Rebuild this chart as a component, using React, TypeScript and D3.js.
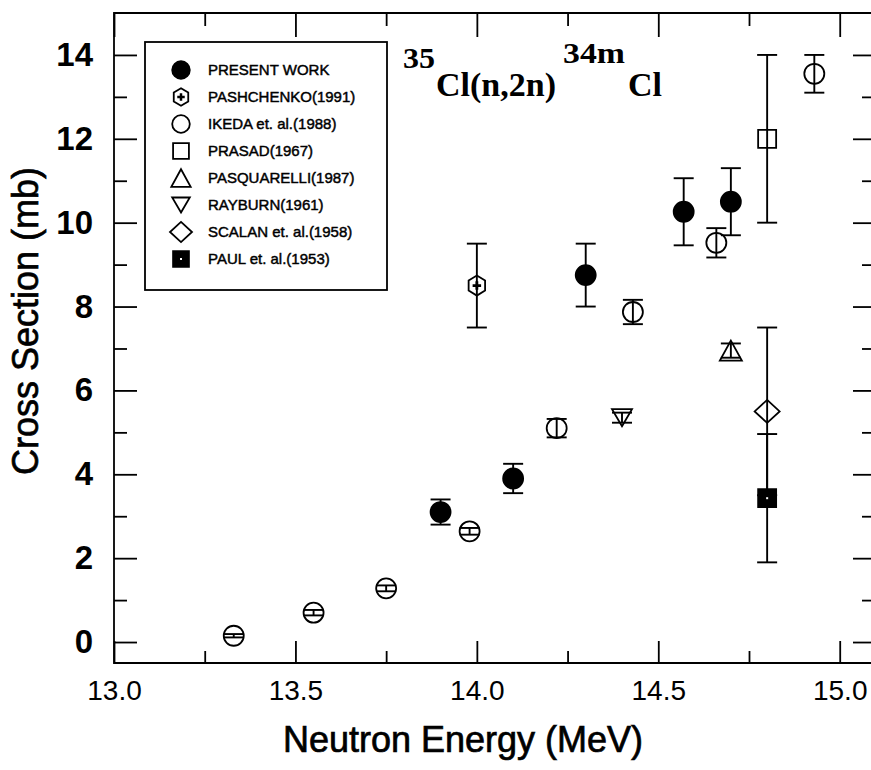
import React, { useEffect, useRef } from "react";
import * as d3 from "d3";

// Cross sections for 35Cl(n,2n)34mCl versus neutron energy
const xDomain: [number, number] = [13.0, 15.1];
const yDomain: [number, number] = [-0.5, 15.0];
const xMajorTicks = [13.0, 13.5, 14.0, 14.5, 15.0];
const xMinorTicks = [13.25, 13.75, 14.25, 14.75];
const yMajorTicks = [0, 2, 4, 6, 8, 10, 12, 14];
const yMinorTicks = [1, 3, 5, 7, 9, 11, 13];

// PRESENT WORK
const presentEnergy = [13.9, 14.1, 14.3, 14.57, 14.7];
const presentSigma = [3.1, 3.9, 8.75, 10.26, 10.5];
const presentError = [0.3, 0.35, 0.75, 0.8, 0.8];

// PASHCHENKO(1991)
const pashchenkoEnergy = [14.0];
const pashchenkoSigma = [8.5];
const pashchenkoError = [1.0];

// IKEDA et. al.(1988)
const ikedaEnergy = [13.33, 13.55, 13.75, 13.98, 14.22, 14.43, 14.66, 14.93];
const ikedaSigma = [0.15, 0.7, 1.28, 2.64, 5.1, 7.87, 9.52, 13.55];
const ikedaError = [0.04, 0.065, 0.07, 0.08, 0.22, 0.29, 0.35, 0.45];

// PRASAD(1967)
const prasadEnergy = [14.8];
const prasadSigma = [12.0];
const prasadError = [2.0];

// PASQUARELLI(1987)
const pasquarelliEnergy = [14.7];
const pasquarelliSigma = [6.95];
const pasquarelliError = [0.17];

// RAYBURN(1961)
const rayburnEnergy = [14.4];
const rayburnSigma = [5.35];
const rayburnError = [0.12];

// SCALAN et. al.(1958)
const scalanEnergy = [14.8];
const scalanSigma = [5.5];
const scalanError = [2.0];

// PAUL et. al.(1953)
const paulEnergy = [14.8];
const paulSigma = [3.43];
const paulError = [1.53];

type Kind = "circle" | "hexagon" | "square" | "triUp" | "triDown" | "diamond";

interface Series {
  label: string;
  kind: Kind;
  filled: boolean;
  energy: number[];
  sigma: number[];
  error: number[];
}

const series: Series[] = [
  { label: "PRESENT WORK", kind: "circle", filled: true, energy: presentEnergy, sigma: presentSigma, error: presentError },
  { label: "PASHCHENKO(1991)", kind: "hexagon", filled: false, energy: pashchenkoEnergy, sigma: pashchenkoSigma, error: pashchenkoError },
  { label: "IKEDA et. al.(1988)", kind: "circle", filled: false, energy: ikedaEnergy, sigma: ikedaSigma, error: ikedaError },
  { label: "PRASAD(1967)", kind: "square", filled: false, energy: prasadEnergy, sigma: prasadSigma, error: prasadError },
  { label: "PASQUARELLI(1987)", kind: "triUp", filled: false, energy: pasquarelliEnergy, sigma: pasquarelliSigma, error: pasquarelliError },
  { label: "RAYBURN(1961)", kind: "triDown", filled: false, energy: rayburnEnergy, sigma: rayburnSigma, error: rayburnError },
  { label: "SCALAN et. al.(1958)", kind: "diamond", filled: false, energy: scalanEnergy, sigma: scalanSigma, error: scalanError },
  { label: "PAUL et. al.(1953)", kind: "square", filled: true, energy: paulEnergy, sigma: paulSigma, error: paulError },
];

const W = 871;
const H = 770;
const plot = { left: 114, right: 876, top: 13, bottom: 663 };
const SANS = "'Liberation Sans', Arial, Helvetica, sans-serif";
const SERIF = "'Liberation Serif', 'Times New Roman', serif";

const x = d3.scaleLinear().domain(xDomain).range([plot.left, plot.right]);
const y = d3.scaleLinear().domain(yDomain).range([plot.bottom, plot.top]);

function symbolPath(kind: Kind, s: number): string {
  const p = d3.path();
  if (kind === "circle") {
    const r = 10 * s;
    p.arc(0, 0, r, 0, Math.PI * 2);
  } else if (kind === "hexagon") {
    const r = 10 * s;
    for (let k = 0; k < 6; k++) {
      const a = -Math.PI / 2 + (k * Math.PI) / 3;
      const px = 0.95 * r * Math.cos(a);
      const py = r * Math.sin(a);
      if (k === 0) p.moveTo(px, py);
      else p.lineTo(px, py);
    }
    p.closePath();
  } else if (kind === "square") {
    const h = 9 * s;
    p.rect(-h, -h, 2 * h, 2 * h);
  } else if (kind === "triUp") {
    const w = 11 * s, h = 10 * s;
    p.moveTo(0, -h);
    p.lineTo(w, h);
    p.lineTo(-w, h);
    p.closePath();
  } else if (kind === "triDown") {
    const w = 10 * s, h = 8.5 * s;
    p.moveTo(0, h);
    p.lineTo(w, -h);
    p.lineTo(-w, -h);
    p.closePath();
  } else {
    const w = 12.5 * s, h = 11.5 * s;
    p.moveTo(0, -h);
    p.lineTo(w, 0);
    p.lineTo(0, h);
    p.lineTo(-w, 0);
    p.closePath();
  }
  return p.toString();
}

function Marker({ s, scale, cx, cy }: { s: Series; scale: number; cx: number; cy: number }) {
  return (
    <g transform={`translate(${cx},${cy})`}>
      <path
        d={symbolPath(s.kind, scale)}
        fill={s.filled ? "#000" : "none"}
        stroke="#000"
        strokeWidth={1.8}
      />
      {s.kind === "hexagon" && (
        <path d={d3.symbol().type(d3.symbolCross).size(40 * scale * scale)() || ""} fill="#000" />
      )}
      {s.kind === "square" && s.filled && <rect x={-1} y={-1} width={2} height={2} fill="#fff" />}
    </g>
  );
}

function Axes() {
  const ref = useRef<SVGGElement>(null);
  useEffect(() => {
    const g = d3.select(ref.current);
    g.selectAll("*").remove();
    const style = (sel: any, size: number, weight: string) => {
      sel.select(".domain").remove();
      sel.selectAll(".tick line").attr("stroke", "#000").attr("stroke-width", 1.8);
      sel.selectAll(".tick text")
        .attr("fill", "#000")
        .attr("font-family", SANS)
        .attr("font-size", size)
        .attr("font-weight", weight);
    };
    // bottom
    g.append("g").attr("transform", `translate(0,${plot.bottom})`)
      .call(d3.axisBottom(x).tickValues(xMajorTicks).tickSize(-22).tickPadding(17).tickFormat(d3.format(".1f")))
      .call((s: any) => style(s, 28, "normal"));
    g.append("g").attr("transform", `translate(0,${plot.bottom})`)
      .call(d3.axisBottom(x).tickValues(xMinorTicks).tickSize(-12).tickFormat(() => ""))
      .call((s: any) => style(s, 28, "normal"));
    // top
    g.append("g").attr("transform", `translate(0,${plot.top})`)
      .call(d3.axisTop(x).tickValues(xMajorTicks).tickSize(-24).tickFormat(() => ""))
      .call((s: any) => style(s, 28, "normal"));
    g.append("g").attr("transform", `translate(0,${plot.top})`)
      .call(d3.axisTop(x).tickValues(xMinorTicks).tickSize(-13).tickFormat(() => ""))
      .call((s: any) => style(s, 28, "normal"));
    // left
    g.append("g").attr("transform", `translate(${plot.left},0)`)
      .call(d3.axisLeft(y).tickValues(yMajorTicks).tickSize(-23).tickPadding(21).tickFormat(d3.format("d")))
      .call((s: any) => style(s, 33, "bold"));
    g.append("g").attr("transform", `translate(${plot.left},0)`)
      .call(d3.axisLeft(y).tickValues(yMinorTicks).tickSize(-13).tickFormat(() => ""))
      .call((s: any) => style(s, 33, "bold"));
    // right
    g.append("g").attr("transform", `translate(${plot.right},0)`)
      .call(d3.axisRight(y).tickValues(yMajorTicks).tickSize(-23).tickFormat(() => ""))
      .call((s: any) => style(s, 33, "bold"));
    g.append("g").attr("transform", `translate(${plot.right},0)`)
      .call(d3.axisRight(y).tickValues(yMinorTicks).tickSize(-14).tickFormat(() => ""))
      .call((s: any) => style(s, 33, "bold"));
  }, []);
  return <g ref={ref} />;
}

export default function App() {
  const cap = 10;
  const legendRow0 = 70;
  const legendStep = 27;
  return (
    <svg
      width={W}
      height={H}
      viewBox={`0 0 ${W} ${H}`}
      style={{ position: "absolute", left: 0, top: 0, background: "#fff" }}
    >
      <rect x={0} y={0} width={W} height={H} fill="#fff" />
      {/* frame */}
      <path
        d={`M${plot.right},${plot.top}H${plot.left}V${plot.bottom}H${plot.right}V${plot.top}`}
        fill="none"
        stroke="#000"
        strokeWidth={1.8}
      />
      <Axes />

      {/* error bars */}
      {series.map((s) =>
        s.energy.map((e, i) => {
          const cx = x(e);
          const y1 = y(s.sigma[i] + s.error[i]);
          const y2 = y(s.sigma[i] - s.error[i]);
          return (
            <g key={`${s.label}-err-${i}`} stroke="#000" strokeWidth={1.9}>
              <line x1={cx} x2={cx} y1={y1} y2={y2} />
              <line x1={cx - cap} x2={cx + cap} y1={y1} y2={y1} />
              <line x1={cx - cap} x2={cx + cap} y1={y2} y2={y2} />
            </g>
          );
        })
      )}
      {/* markers */}
      {series.map((s) =>
        s.energy.map((e, i) => (
          <Marker key={`${s.label}-m-${i}`} s={s} scale={1} cx={x(e)} cy={y(s.sigma[i])} />
        ))
      )}

      {/* legend */}
      <rect x={145} y={42} width={242} height={248} fill="#fff" stroke="#000" strokeWidth={1.8} />
      {series.map((s, i) => (
        <g key={`leg-${s.label}`}>
          <Marker s={s} scale={0.88} cx={181} cy={legendRow0 + i * legendStep} />
          <text
            x={208}
            y={legendRow0 + i * legendStep}
            dy="0.36em"
            fontFamily={SANS}
            fontSize={15}
            fill="#000"
            stroke="#000"
            strokeWidth={0.45}
          >
            {s.label}
          </text>
        </g>
      ))}

      {/* reaction title */}
      <g fontFamily={SERIF} fontWeight="bold" fill="#000">
        <text x={403} y={68} fontSize={30} textLength={32} lengthAdjust="spacingAndGlyphs">35</text>
        <text x={436} y={96} fontSize={34}>Cl(n,2n)</text>
        <text x={563} y={63} fontSize={30} textLength={62} lengthAdjust="spacingAndGlyphs">34m</text>
        <text x={628} y={96} fontSize={34}>Cl</text>
      </g>

      {/* axis titles */}
      <text
        x={463}
        y={752}
        textAnchor="middle"
        fontFamily={SANS}
        fontSize={36}
        fill="#000"
        stroke="#000"
        strokeWidth={0.7}
      >
        Neutron Energy (MeV)
      </text>
      <text
        transform="translate(38,321) rotate(-90)"
        textAnchor="middle"
        fontFamily={SANS}
        fontSize={36}
        fill="#000"
        stroke="#000"
        strokeWidth={0.7}
      >
        Cross Section (mb)
      </text>
    </svg>
  );
}
